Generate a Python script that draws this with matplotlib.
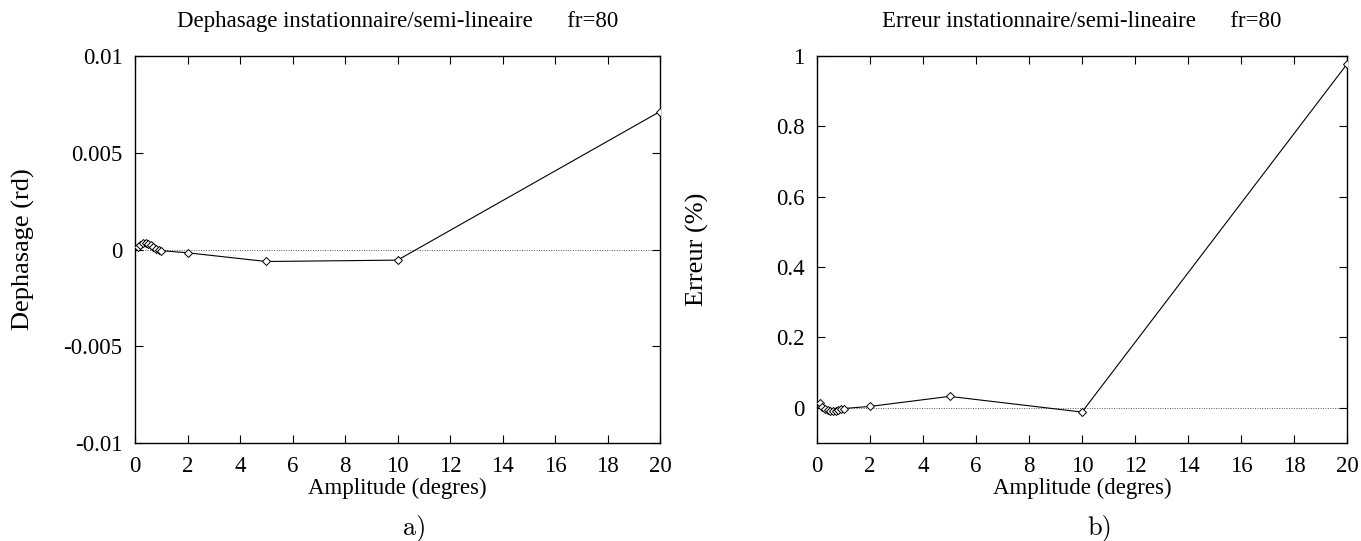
import numpy as np
import matplotlib
matplotlib.use("Agg")
import matplotlib.pyplot as plt

# amplitudes (degres)
amplitude = [0.1, 0.2, 0.3, 0.4, 0.5, 0.6, 0.7, 0.8, 0.9, 1.0, 2.0, 5.0, 10.0, 20.0]

# dephasage instationnaire/semi-lineaire (rd)
dephasage = [0.00012, 0.00025, 0.00032, 0.00034, 0.00031, 0.00024, 0.00014,
             0.00004, -0.00003, -0.00006, -0.00017, -0.00062, -0.00055, 0.00713]

# erreur instationnaire/semi-lineaire (%)
erreur = [0.013, 0.002, -0.004, -0.007, -0.009, -0.010, -0.008,
          -0.005, -0.003, -0.002, 0.004, 0.0325, -0.012, 0.977]

xticks = [0, 2, 4, 6, 8, 10, 12, 14, 16, 18, 20]
yticks_a = [-0.01, -0.005, 0, 0.005, 0.01]
yticks_a_labels = ["-0.01", "-0.005", "0", "0.005", "0.01"]
yticks_b = [0, 0.2, 0.4, 0.6, 0.8, 1]
yticks_b_labels = ["0", "0.2", "0.4", "0.6", "0.8", "1"]

plt.rcParams['font.family'] = ['Liberation Serif', 'DejaVu Serif']

W, H = 1361, 541
FS = 16.5
fig = plt.figure(figsize=(W / 100, H / 100), dpi=100)


def style_axes(ax, title, ylabel):
    ax.set_xlim(0, 20)
    ax.set_xticks(xticks)
    ax.tick_params(direction='in', top=True, right=True, length=6, width=0.8,
                   labelsize=FS)
    ax.tick_params(axis='y', pad=9)
    ax.tick_params(axis='x', pad=9)
    for s in ax.spines.values():
        s.set_linewidth(1.0)
    ax.axhline(0, color='#555555', lw=0.7, ls=(0, (1, 1.5)), zorder=1)
    ax.set_title(title, fontsize=FS, pad=21)
    ax.set_xlabel("Amplitude (degres)", fontsize=FS, labelpad=1)
    ax.set_ylabel(ylabel, fontsize=19)


ax1 = fig.add_axes([135 / W, 1 - 443 / H, 525 / W, 387 / H])
ax1.plot(amplitude, dephasage, color='black', lw=0.8, marker='D', ms=3.8,
         mfc='white', mec='black', mew=0.7, zorder=3)
ax1.set_ylim(-0.01, 0.01)
ax1.set_yticks(yticks_a)
ax1.set_yticklabels(yticks_a_labels)
style_axes(ax1, "Dephasage instationnaire/semi-lineaire      fr=80", "Dephasage (rd)")
ax1.yaxis.set_label_coords(-0.19, 0.5)

ax2 = fig.add_axes([817 / W, 1 - 443 / H, 530 / W, 387 / H])
ax2.plot(amplitude, erreur, color='black', lw=0.8, marker='D', ms=3.8,
         mfc='white', mec='black', mew=0.7, zorder=3)
ax2.set_ylim(-0.1, 1.0)
ax2.set_yticks(yticks_b)
ax2.set_yticklabels(yticks_b_labels)
style_axes(ax2, "Erreur instationnaire/semi-lineaire      fr=80", "Erreur (%)")
ax2.yaxis.set_label_coords(-0.204, 0.5)

fig.text(415 / W, 1 - 528 / H, "a)", family='cmr10', fontsize=19, ha='center', va='center')
fig.text(1100 / W, 1 - 528 / H, "b)", family='cmr10', fontsize=19, ha='center', va='center')

fig.savefig("out.png", dpi=100)
